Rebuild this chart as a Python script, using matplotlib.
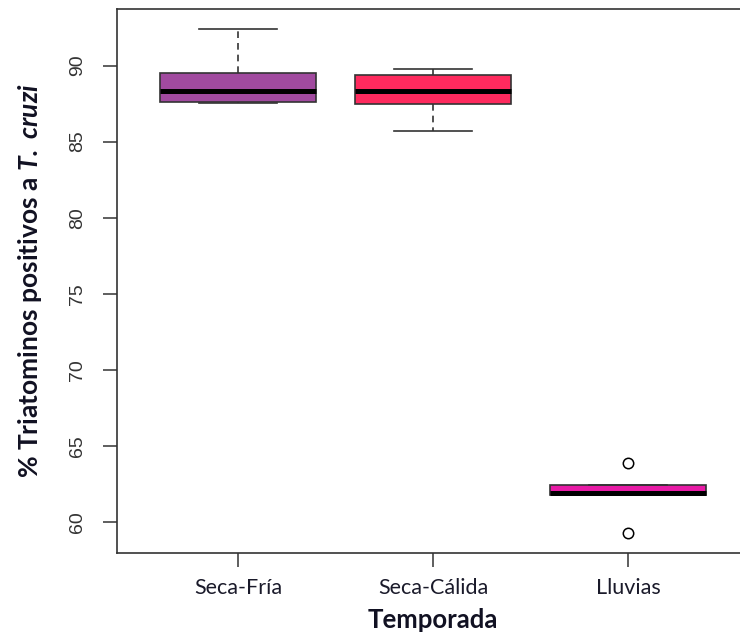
import matplotlib
matplotlib.use("Agg")
import matplotlib.pyplot as plt

categories = ["Seca-Fría", "Seca-Cálida", "Lluvias"]
whislo = [87.51, 85.72, 61.75]
q1 = [87.61, 87.49, 61.75]
med = [88.31, 88.33, 61.90]
q3 = [89.52, 89.41, 62.45]
whishi = [92.39, 89.80, 62.45]
fliers = [[], [], [63.84, 59.27]]
colors = ["#A14A9F", "#FF2A5E", "#E81AA6"]
yticks = [60, 65, 70, 75, 80, 85, 90]

plt.rcParams['mathtext.fontset'] = 'custom'
plt.rcParams['mathtext.bf'] = 'Lato:bold:italic'
plt.rcParams['mathtext.it'] = 'Lato:bold:italic'

fig = plt.figure(figsize=(7.40, 6.36), dpi=100)
ax = fig.add_axes([117/740, 1-553/636, (749-117)/740, (553-9)/636])

stats = []
for i, c in enumerate(categories):
    stats.append(dict(label=c, whislo=whislo[i], q1=q1[i], med=med[i], q3=q3[i],
                      whishi=whishi[i], fliers=fliers[i]))

edge = "#333333"
bp = ax.bxp(stats, positions=[1, 2, 3], widths=0.8, patch_artist=True,
            boxprops=dict(edgecolor=edge, linewidth=1.2),
            medianprops=dict(color="black", linewidth=3.6, solid_capstyle="butt"),
            whiskerprops=dict(color=edge, linewidth=1.2, linestyle=(0, (4, 3))),
            capprops=dict(color=edge, linewidth=1.2),
            capwidths=0.4,
            flierprops=dict(marker="o", markerfacecolor="none", markeredgecolor="black",
                            markersize=7.5, markeredgewidth=1.1))
for patch, col in zip(bp["boxes"], colors):
    patch.set_facecolor(col)

ax.set_xlim(0.38, 3.62)
ax.set_ylim(57.95, 93.72)
ax.set_yticks(yticks)
ax.set_yticklabels([str(v) for v in yticks], rotation=90, va="center",
                   fontsize=14, family="Liberation Sans", color="#333333")
ax.set_xticks([1, 2, 3])
ax.set_xticklabels(categories, fontsize=15.5, family="Lato", color="#1a1a2a")
ax.tick_params(axis="y", length=10, width=1.1, color=edge, pad=12)
ax.tick_params(axis="x", length=10, width=1.1, color=edge, pad=8)
for s in ["left", "bottom", "top"]:
    ax.spines[s].set_color(edge)
    ax.spines[s].set_linewidth(1.2)
ax.spines["right"].set_visible(False)

ax.set_xlabel("Temporada", fontsize=18.5, fontweight="bold", family="Lato",
              color="#111122", labelpad=7)
ax.set_ylabel(r"% Triatominos positivos a $\mathbf{T.\ cruzi}$", fontsize=19,
              fontweight="bold", family="Lato", color="#111122", labelpad=18)

fig.savefig("out.png", dpi=100)
